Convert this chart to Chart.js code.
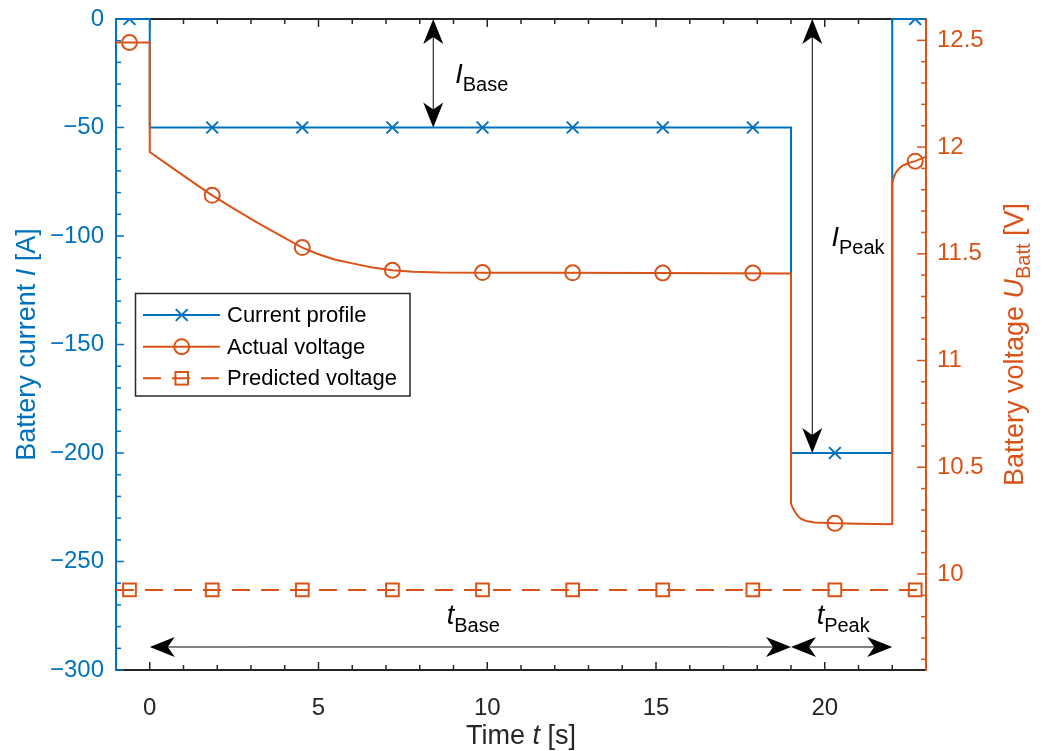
<!DOCTYPE html>
<html><head><meta charset="utf-8">
<script src="https://cdn.jsdelivr.net/npm/chart.js@4.4.0/dist/chart.umd.min.js"></script>
<style>html,body{margin:0;padding:0;background:#fff}canvas{display:block}</style>
</head><body>
<canvas id="c" width="1048" height="751"></canvas>
<script>
// ---------- data ----------
const currentTime   = [-1, 0, 0, 19, 19, 22, 22, 23];
const currentValues = [0, 0, -50, -50, -200, -200, 0, 0];

const voltageTime = [-1, 0, 0, 0.5, 1, 1.5, 1.85, 2.5, 3.2, 3.9, 4.52, 5.0, 5.5, 6.0, 6.6, 7.19, 7.8, 8.6, 10, 12, 15, 19,
                     19, 19.05, 19.12, 19.2, 19.3, 19.45, 19.7, 20.3, 21, 22,
                     22, 22.05, 22.13, 22.22, 22.33, 22.5, 22.68, 23];
const voltageValues = [12.49, 12.49, 11.977, 11.921, 11.866, 11.811, 11.774, 11.71, 11.645, 11.583, 11.529, 11.498, 11.472, 11.455, 11.436, 11.423, 11.416, 11.412, 11.411, 11.411, 11.41, 11.408,
                       10.33, 10.31, 10.29, 10.272, 10.258, 10.248, 10.241, 10.237, 10.235, 10.233,
                       11.83, 11.862, 11.886, 11.902, 11.915, 11.926, 11.934, 11.955];

const predictedTime   = [-1, 23];
const predictedValues = [9.925, 9.925];

const markerTime            = [-0.6, 1.85, 4.52, 7.19, 9.86, 12.53, 15.2, 17.87, 20.3, 22.68];
const currentMarkerValues   = [0, -50, -50, -50, -50, -50, -50, -50, -200, 0];
const voltageMarkerValues   = [12.49, 11.774, 11.529, 11.423, 11.412, 11.411, 11.41, 11.41, 10.237, 11.934];
const predictedMarkerValues = [9.925, 9.925, 9.925, 9.925, 9.925, 9.925, 9.925, 9.925, 9.925, 9.925];

const timeTicks    = [0, 5, 10, 15, 20];
const currentTicks = [-300, -250, -200, -150, -100, -50, 0];
const voltageTicks = [10, 10.5, 11, 11.5, 12, 12.5];
const legendLabels = ['Current profile', 'Actual voltage', 'Predicted voltage'];

// ---------- styling ----------
const BLUE = '#0072BD', ORANGE = '#D95319', AXIS = '#262626';
const FONT = '"Liberation Sans", Arial, Helvetica, sans-serif';
const DASH = [18, 11];

const pts = (xs, ys) => xs.map((t, i) => ({x: t, y: ys[i]}));

// annotation config (data coordinates)
const arrows = [
  {dir: 'v', at: 8.4,   from: 0,   to: -50},
  {dir: 'v', at: 19.63, from: 0,   to: -200},
  {dir: 'h', at: -289.4, from: 0,  to: 19},
  {dir: 'h', at: -289.4, from: 19, to: 22}
];
const annoTexts = [
  {sym: 'I', sub: 'Base', t: 9.05,  v: -29.5},
  {sym: 'I', sub: 'Peak', t: 20.2,  v: -104.5},
  {sym: 't', sub: 'Base', t: 8.8,   v: -279},
  {sym: 't', sub: 'Peak', t: 19.76, v: -279}
];

function line(ctx, x1, y1, x2, y2) { ctx.beginPath(); ctx.moveTo(x1, y1); ctx.lineTo(x2, y2); ctx.stroke(); }

function drawRich(ctx, parts, x, y, align, rotate) {
  ctx.save();
  ctx.translate(x, y);
  if (rotate) ctx.rotate(-Math.PI / 2);
  ctx.textBaseline = 'alphabetic'; ctx.textAlign = 'left';
  let total = 0;
  parts.forEach(p => { ctx.font = (p.italic ? 'italic ' : '') + p.size + 'px ' + FONT; p.w = ctx.measureText(p.text).width; total += p.w; });
  let cx = align === 'center' ? -total / 2 : 0;
  parts.forEach(p => {
    ctx.font = (p.italic ? 'italic ' : '') + p.size + 'px ' + FONT;
    ctx.fillStyle = p.color;
    ctx.fillText(p.text, cx, p.dy || 0);
    cx += p.w;
  });
  ctx.restore();
}

function arrowHead(ctx, tx, ty, ux, uy) {
  const L = 25, W = 10, N = 18;
  const px = -uy, py = ux;
  ctx.beginPath();
  ctx.moveTo(tx, ty);
  ctx.lineTo(tx + ux * L + px * W, ty + uy * L + py * W);
  ctx.lineTo(tx + ux * N, ty + uy * N);
  ctx.lineTo(tx + ux * L - px * W, ty + uy * L - py * W);
  ctx.closePath();
  ctx.fill();
}

const decorPlugin = {
  id: 'decor',
  beforeDatasetsDraw(chart) {
    const {ctx, chartArea: a, scales: {x, y, y1}} = chart;
    ctx.save();
    ctx.lineCap = 'butt';
    ctx.strokeStyle = AXIS; ctx.lineWidth = 1.5;
    for (let v = Math.ceil(x.min); v <= x.max; v++) {
      const px = x.getPixelForValue(v);
      if (px <= a.left + 2 || px >= a.right - 2) continue;
      const L = timeTicks.includes(v) ? 8 : 5;
      line(ctx, px, a.bottom, px, a.bottom - L);
      line(ctx, px, a.top, px, a.top + L);
    }
    ctx.lineWidth = 2;
    line(ctx, a.left, a.bottom, a.right, a.bottom);
    line(ctx, a.left, a.top, a.right, a.top);
    ctx.strokeStyle = BLUE; ctx.lineWidth = 1.5;
    for (let v = -300; v <= 0; v += 10) {
      const py = y.getPixelForValue(v);
      const L = currentTicks.includes(v) ? 8 : 5;
      line(ctx, a.left, py, a.left + L, py);
    }
    ctx.lineWidth = 2;
    line(ctx, a.left, a.top - 1, a.left, a.bottom + 1);
    ctx.strokeStyle = ORANGE; ctx.lineWidth = 1.5;
    for (let k = 96; k <= 125; k++) {
      const v = k / 10;
      const py = y1.getPixelForValue(v);
      const L = voltageTicks.some(t => Math.abs(t - v) < 1e-6) ? 9 : 5;
      line(ctx, a.right, py, a.right - L, py);
    }
    ctx.lineWidth = 2;
    line(ctx, a.right, a.top - 1, a.right, a.bottom + 1);
    ctx.restore();
  },
  afterDatasetsDraw(chart) {
    const {ctx, chartArea: a, scales: {x, y}} = chart;
    ctx.save();
    ctx.strokeStyle = '#000'; ctx.fillStyle = '#000'; ctx.lineWidth = 1;
    arrows.forEach(ar => {
      let x1, y1, x2, y2;
      if (ar.dir === 'v') { x1 = x2 = x.getPixelForValue(ar.at); y1 = y.getPixelForValue(ar.from); y2 = y.getPixelForValue(ar.to); }
      else { y1 = y2 = y.getPixelForValue(ar.at); x1 = x.getPixelForValue(ar.from); x2 = x.getPixelForValue(ar.to); }
      const len = Math.hypot(x2 - x1, y2 - y1), ux = (x2 - x1) / len, uy = (y2 - y1) / len;
      line(ctx, x1 + ux * 15, y1 + uy * 15, x2 - ux * 15, y2 - uy * 15);
      arrowHead(ctx, x1, y1, ux, uy);
      arrowHead(ctx, x2, y2, -ux, -uy);
    });
    annoTexts.forEach(t => {
      drawRich(ctx, [
        {text: t.sym, size: 27, italic: true, color: '#000'},
        {text: t.sub, size: 20, color: '#000', dy: 8}
      ], x.getPixelForValue(t.t), y.getPixelForValue(t.v), 'left', false);
    });
    drawRich(ctx, [
      {text: 'Time ', size: 27, color: AXIS},
      {text: 't', size: 27, italic: true, color: AXIS},
      {text: ' [s]', size: 27, color: AXIS}
    ], (a.left + a.right) / 2, 744, 'center', false);
    drawRich(ctx, [
      {text: 'Battery current ', size: 27, color: BLUE},
      {text: 'I', size: 27, italic: true, color: BLUE},
      {text: ' [A]', size: 27, color: BLUE}
    ], 35, (a.top + a.bottom) / 2, 'center', true);
    drawRich(ctx, [
      {text: 'Battery voltage ', size: 27, color: ORANGE},
      {text: 'U', size: 27, italic: true, color: ORANGE},
      {text: 'Batt', size: 20, color: ORANGE, dy: 7},
      {text: ' [V]', size: 27, color: ORANGE}
    ], 1023, (a.top + a.bottom) / 2, 'center', true);
    const bx = 135.5, by = 293.5, bw = 274.5, bh = 102.5;
    ctx.fillStyle = '#fff'; ctx.fillRect(bx, by, bw, bh);
    ctx.strokeStyle = AXIS; ctx.lineWidth = 1.5; ctx.strokeRect(bx, by, bw, bh);
    const rows = [315, 346.7, 378.3];
    const lx1 = 143, lx2 = 220, mx = 181.7;
    ctx.lineWidth = 2;
    ctx.strokeStyle = BLUE; line(ctx, lx1, rows[0], lx2, rows[0]);
    const c = 5.9;
    line(ctx, mx - c, rows[0] - c, mx + c, rows[0] + c); line(ctx, mx - c, rows[0] + c, mx + c, rows[0] - c);
    ctx.strokeStyle = ORANGE; line(ctx, lx1, rows[1], lx2, rows[1]);
    ctx.beginPath(); ctx.arc(mx, rows[1], 7.5, 0, Math.PI * 2); ctx.stroke();
    ctx.setLineDash(DASH); line(ctx, lx1, rows[2], lx2, rows[2]); ctx.setLineDash([]);
    ctx.strokeRect(mx - 6.3, rows[2] - 6.3, 12.6, 12.6);
    ctx.fillStyle = '#000'; ctx.font = '22px ' + FONT; ctx.textBaseline = 'middle'; ctx.textAlign = 'left';
    legendLabels.forEach((s, i) => ctx.fillText(s, 227, rows[i] + 1));
    ctx.restore();
  }
};

const zeroPad = s => { s.paddingTop = 0; s.paddingBottom = 0; s.paddingLeft = 0; s.paddingRight = 0; };

new Chart(document.getElementById('c'), {
  type: 'line',
  data: {
    datasets: [
      {data: pts(voltageTime, voltageValues), yAxisID: 'y1', borderColor: ORANGE, borderWidth: 2, pointRadius: 0, tension: 0, clip: false, order: 2},
      {data: pts(markerTime, voltageMarkerValues), yAxisID: 'y1', showLine: false, pointStyle: 'circle', pointRadius: 7.5,
       pointBorderColor: ORANGE, pointBackgroundColor: 'rgba(0,0,0,0)', pointBorderWidth: 2, order: 1},
      {data: pts(predictedTime, predictedValues), yAxisID: 'y1', borderColor: ORANGE, borderWidth: 2, borderDash: DASH, pointRadius: 0, order: 4},
      {data: pts(markerTime, predictedMarkerValues), yAxisID: 'y1', showLine: false, pointStyle: 'rect', pointRadius: 9,
       pointBorderColor: ORANGE, pointBackgroundColor: 'rgba(0,0,0,0)', pointBorderWidth: 2, order: 3},
      {data: pts(currentTime, currentValues), yAxisID: 'y', borderColor: BLUE, borderWidth: 2, pointRadius: 0, tension: 0, clip: false, order: 6},
      {data: pts(markerTime, currentMarkerValues), yAxisID: 'y', showLine: false, pointStyle: 'crossRot', pointRadius: 8.3,
       pointBorderColor: BLUE, pointBorderWidth: 2, clip: 0, order: 5}
    ]
  },
  options: {
    responsive: false,
    devicePixelRatio: 1,
    animation: false,
    events: [],
    layout: {padding: {top: 19, left: 0, right: 0, bottom: 0}},
    plugins: {legend: {display: false}, tooltip: {enabled: false}},
    scales: {
      x: {
        type: 'linear', min: -1, max: 23, position: 'bottom',
        grid: {display: false, drawTicks: false}, border: {display: false},
        afterBuildTicks: s => { s.ticks = timeTicks.map(v => ({value: v})); },
        afterFit: s => { s.height = 81; zeroPad(s); },
        ticks: {color: AXIS, font: {family: FONT, size: 24}, padding: 24, maxRotation: 0, autoSkip: false, callback: v => String(v)}
      },
      y: {
        type: 'linear', min: -300, max: 0, position: 'left',
        grid: {display: false, drawTicks: false}, border: {display: false},
        afterBuildTicks: s => { s.ticks = currentTicks.map(v => ({value: v})); },
        afterFit: s => { s.width = 116; zeroPad(s); },
        ticks: {color: BLUE, font: {family: FONT, size: 24}, padding: 12, autoSkip: false, callback: v => v < 0 ? '\u2212' + Math.abs(v) : String(v)}
      },
      y1: {
        type: 'linear', min: 9.55, max: 12.6, position: 'right',
        grid: {display: false, drawTicks: false}, border: {display: false},
        afterBuildTicks: s => { s.ticks = voltageTicks.map(v => ({value: v})); },
        afterFit: s => { s.width = 122; zeroPad(s); },
        ticks: {color: ORANGE, font: {family: FONT, size: 24}, padding: 11, autoSkip: false, callback: v => String(v)}
      }
    }
  },
  plugins: [decorPlugin]
});
</script>
</body></html>
